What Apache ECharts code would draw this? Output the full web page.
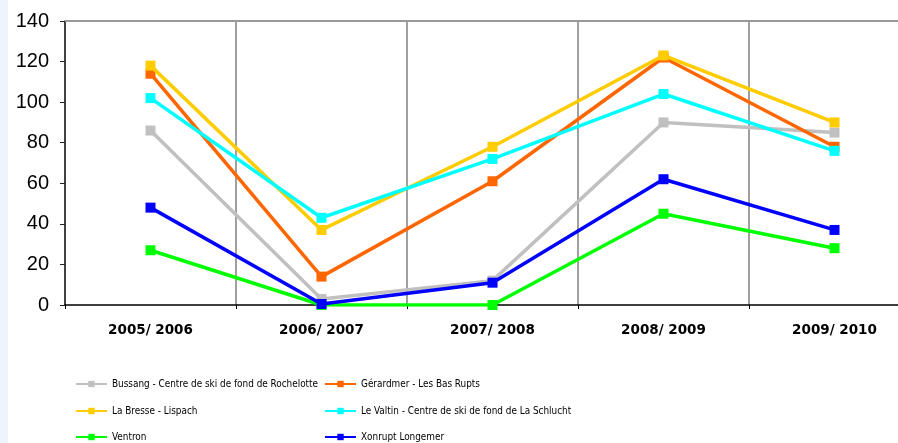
<!DOCTYPE html>
<html>
<head>
<meta charset="utf-8">
<style>
html,body{margin:0;padding:0;background:#fff;}
#chart{width:898px;height:443px;}
</style>
<script src="https://cdn.jsdelivr.net/npm/echarts@6/dist/echarts.min.js"></script>
</head>
<body>
<div id="chart"></div>
<script>
const categories = ['2005/ 2006', '2006/ 2007', '2007/ 2008', '2008/ 2009', '2009/ 2010'];
const seriesNames = [
  'Bussang - Centre de ski de fond de Rochelotte',
  'Gérardmer - Les Bas Rupts',
  'La Bresse - Lispach',
  'Le Valtin - Centre de ski de fond de La Schlucht',
  'Ventron',
  'Xonrupt Longemer'
];
const bussang = [86, 3, 12, 90, 85];
const gerardmer = [114, 14, 61, 122, 78];
const laBresse = [118, 37, 78, 123, 90];
const leValtin = [102, 43, 72, 104, 76];
const ventron = [27, 0, 0, 45, 28];
const xonrupt = [48, 0.5, 11, 62, 37];
const yTicks = [0, 20, 40, 60, 80, 100, 120, 140];
const colors = ['#C0C0C0', '#FF6600', '#FFCC00', '#00FFFF', '#00FF00', '#0000FF'];
const values = [bussang, gerardmer, laBresse, leValtin, ventron, xonrupt];

// choose a narrow font if one is installed, and size it so the longest
// first-column legend entry fits its column as in the original
function pickLegendFont() {
  const ctx = document.createElement('canvas').getContext('2d');
  const probe = seriesNames[0];
  function w(font) { ctx.font = font; return ctx.measureText(probe).width; }
  const candidates = ["Liberation Sans Narrow", "Arial Narrow", "DejaVu Sans Condensed", "Liberation Sans"];
  let family = "Liberation Sans";
  for (const f of candidates) {
    const a = w("40px '" + f + "', monospace"), b = w("40px monospace");
    const c = w("40px '" + f + "', serif"), d = w("40px serif");
    if (Math.abs(a - b) > 0.5 || Math.abs(c - d) > 0.5) { family = f; break; }
  }
  const per = w("40px '" + family + "'") / 40;
  const size = Math.min(13, Math.max(9, 207 / per));
  return {family: family, size: Math.round(size * 10) / 10};
}
const lf = pickLegendFont();

const chart = echarts.init(document.getElementById('chart'), null, {renderer: 'canvas'});
const legendText = {
  fontFamily: "'" + lf.family + "', 'Liberation Sans', Arial, sans-serif",
  fontSize: lf.size,
  color: '#000'
};
// legend slot positions (left, top) for each series, two columns x three rows
const legendSlots = [[75, 379], [324, 379], [75, 406], [324, 406], [75, 432], [324, 432]];
const option = {
  animation: false,
  backgroundColor: '#fff',
  graphic: [{
    type: 'rect', left: 0, top: 0, shape: {width: 8, height: 443},
    style: {fill: '#EEF4FB'}, silent: true, z: -10
  }],
  grid: {left: 65, top: 21, width: 855, height: 284, containLabel: false, outerBoundsMode: 'none'},
  legend: seriesNames.map((name, i) => ({
    left: legendSlots[i][0], top: legendSlots[i][1], padding: 0,
    itemWidth: 31, itemHeight: 8, data: [name], textStyle: legendText
  })),
  xAxis: [{
    type: 'category', data: categories, boundaryGap: true, position: 'bottom',
    axisLine: {lineStyle: {color: '#000', width: 1.5}},
    axisTick: {show: true, length: 4, lineStyle: {color: '#000'}},
    splitLine: {show: true, lineStyle: {color: '#808080', width: 1.5}},
    axisLabel: {
      margin: 18, color: '#000',
      fontFamily: "'DejaVu Sans', sans-serif", fontWeight: 'bold', fontSize: 13.5
    }
  }, {
    type: 'category', data: categories, position: 'top',
    axisLine: {show: true, lineStyle: {color: '#999', width: 2}},
    axisTick: {show: false}, axisLabel: {show: false}, splitLine: {show: false}
  }],
  yAxis: {
    type: 'value', min: yTicks[0], max: yTicks[yTicks.length - 1], interval: 20,
    axisLine: {show: true, lineStyle: {color: '#222', width: 1.5}},
    axisTick: {show: true, length: 5, lineStyle: {color: '#222'}},
    splitLine: {show: false},
    axisLabel: {
      margin: 16, color: '#000',
      fontFamily: "'Liberation Sans', Arial, sans-serif", fontSize: 20
    }
  },
  series: seriesNames.map((name, i) => ({
    name: name, type: 'line', data: values[i], xAxisIndex: 0,
    symbol: 'rect', symbolSize: 10, showSymbol: true,
    lineStyle: {color: colors[i], width: 3.5},
    itemStyle: {color: colors[i]},
    z: 2 + i
  }))
};
chart.setOption(option);
</script>
</body>
</html>
